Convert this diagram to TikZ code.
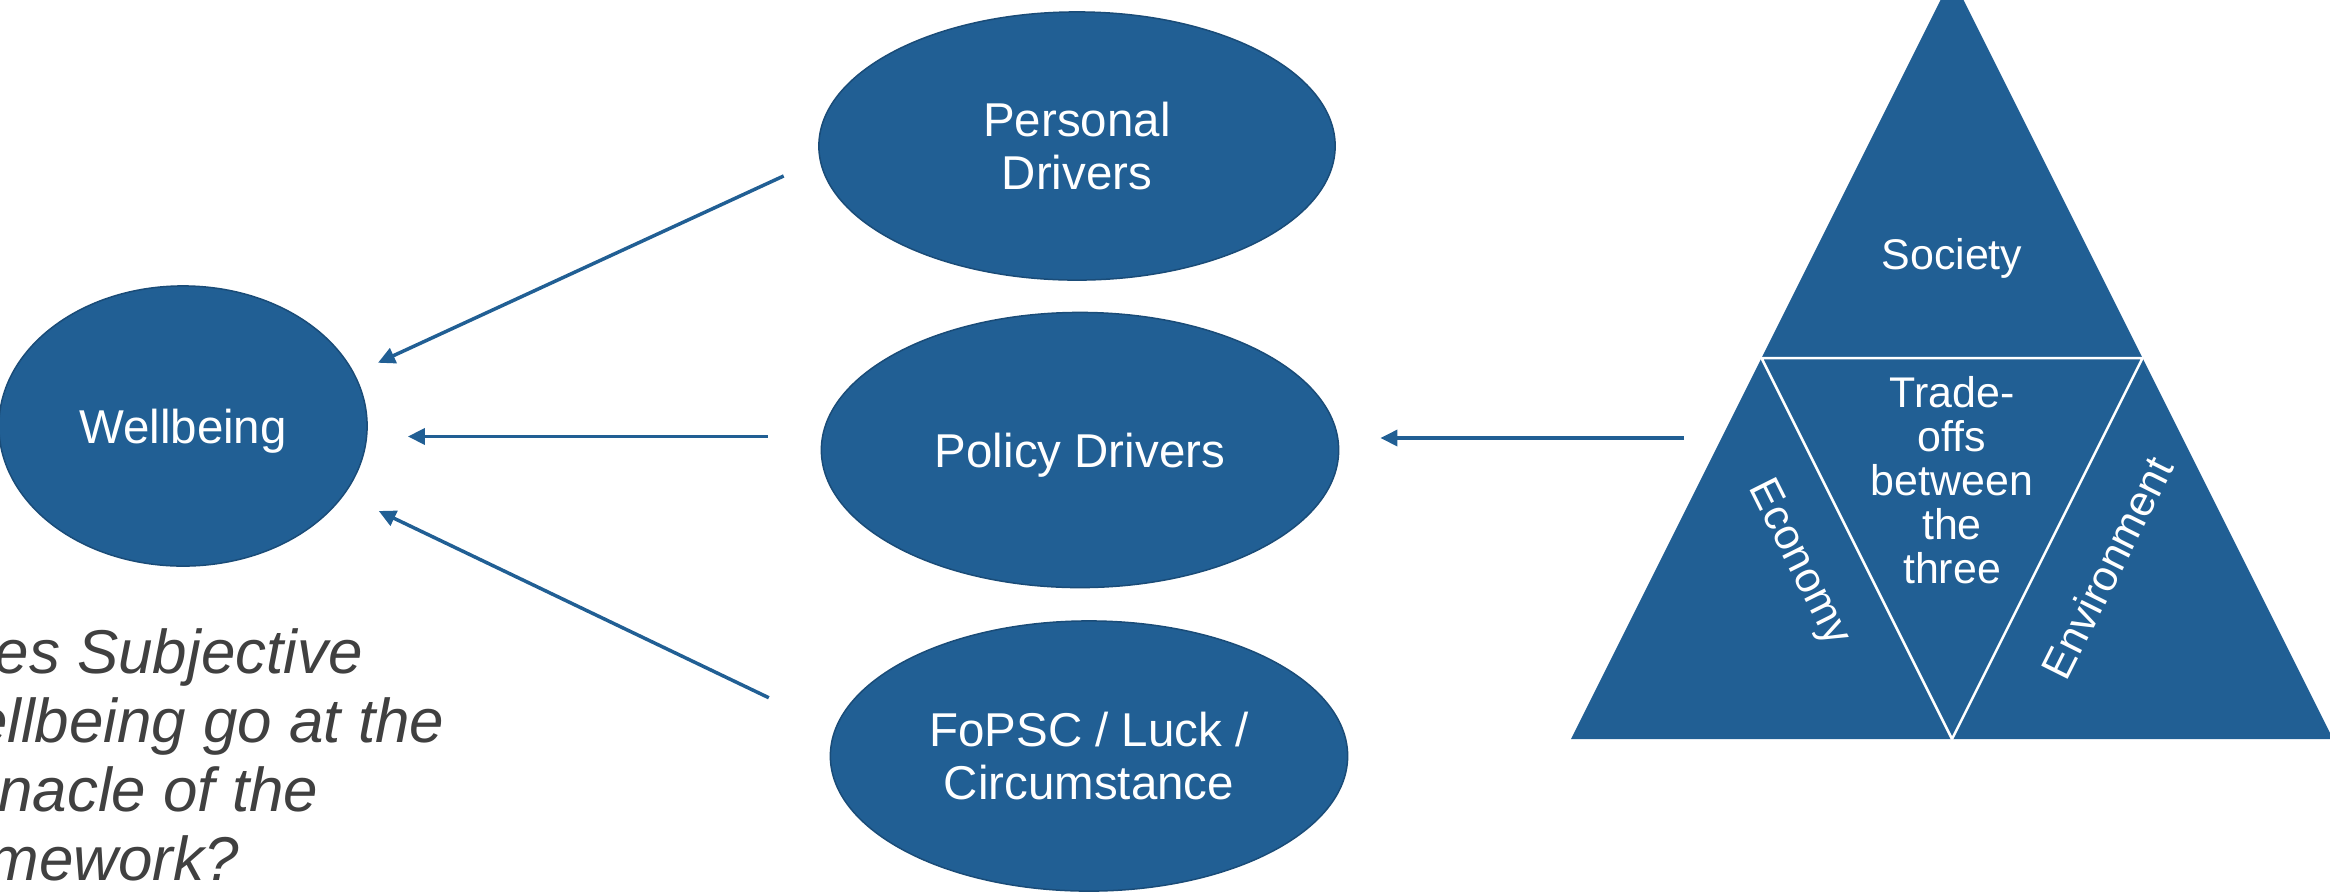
\documentclass[tikz,border=0pt]{standalone}
\usepackage{fontspec}
\setmainfont{Liberation Sans}
\usetikzlibrary{calc, positioning}
\usetikzlibrary{shapes.geometric}
\usetikzlibrary{arrows.meta}
\definecolor{driverblue}{RGB}{33,95,148}
\definecolor{driveredge}{RGB}{26,76,120}
\definecolor{questiongrey}{RGB}{64,64,64}

\begin{document}
\begin{tikzpicture}[x=0.01cm,y=-0.01cm,
driver/.style={ellipse, draw=driveredge, line width=0.015cm, fill=driverblue, text=white, inner sep=0pt, align=center, font=\fontsize{13.5}{15.1}\selectfont},
feed/.style={draw=driverblue, line width=0.035cm, -{Triangle[length=0.17cm, width=0.16cm]}},
pillar/.style={text=white, inner sep=0pt, align=center, font=\fontsize{12.2}{12.5}\selectfont}]
\useasboundingbox (0,0) rectangle (2330,893);
\node[driver, text depth=0pt, minimum width=3.68cm, minimum height=2.80cm] (wellbeing) at (183,426) {Wellbeing};
\node[driver, minimum width=5.16cm, minimum height=2.68cm] (personal) at (1077,146) {Personal\\Drivers};
\node[driver, text depth=0pt, minimum width=5.17cm, minimum height=2.75cm] (policy) at (1080,450) {Policy Drivers};
\node[driver, minimum width=5.17cm, minimum height=2.70cm] (luck) at (1089,756) {FoPSC / Luck /\\Circumstance};
\node[anchor=north west, inner sep=0pt, align=left, text=questiongrey, font=\itshape\fontsize{17.6}{19.6}\selectfont] (question) at (-85,628) {Does Subjective\\Wellbeing go at the\\pinnacle of the\\framework?};
\coordinate (apex) at (1952,-23);
\coordinate (baseL) at (1571,739);
\coordinate (baseR) at (2333,739);
\coordinate (midL) at ($(apex)!0.5!(baseL)$);
\coordinate (midR) at ($(apex)!0.5!(baseR)$);
\coordinate (midB) at ($(baseL)!0.5!(baseR)$);
\fill[driverblue] (apex) -- (baseR) -- (baseL) -- cycle;
\draw[white, line width=0.025cm] (midL) -- (midR) -- (midB) -- cycle;
\node[pillar] (society) at (1952,258) {Society};
\node[pillar] (tradeoffs) at (1952,480) {Trade-\\offs\\between\\the\\three};
\node[pillar, rotate=-63.4] (economy) at (1798,563) {Economy};
\node[pillar, rotate=63.4] (environment) at (2107,568) {Environment};
\coordinate (tradeIn) at (1684,438);
\draw[feed, shorten <=0.393cm, shorten >=0.258cm] (personal.183.6) -- (wellbeing.17.9);
\draw[feed, shorten <=0.54cm, shorten >=0.40cm] (policy.177.4) -- (policy.177.4 -| wellbeing.east);
\draw[feed, shorten <=0.73cm, shorten >=0.38cm] (luck.174.8) -- (wellbeing.-23.5);
\draw[feed, shorten >=0.41cm] (tradeIn) -- (tradeIn -| policy.east);
\end{tikzpicture}
\end{document}
